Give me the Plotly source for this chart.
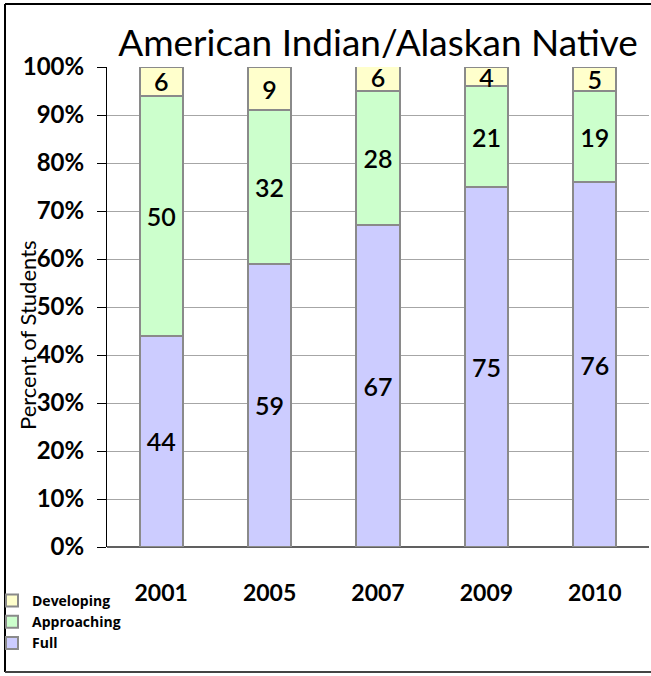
import plotly.graph_objects as go

years = ["2001", "2005", "2007", "2009", "2010"]
full = [44, 59, 67, 75, 76]
approaching = [50, 32, 28, 21, 19]
developing = [6, 9, 6, 4, 5]

FONT = "Lato, 'Open Sans', sans-serif"

fig = go.Figure()
series = [("Full", full, "#CCCCFF"), ("Approaching", approaching, "#CCFFCC"), ("Developing", developing, "#FFFFCC")]
for name, vals, col in series:
    fig.add_trace(go.Bar(
        x=years, y=vals, name=name, width=0.4,
        marker=dict(color=col, line=dict(color="#8a8a8a", width=2)),
        text=[str(v) for v in vals], textposition="inside", insidetextanchor="middle",
        constraintext="none", textangle=0,
        textfont=dict(family=FONT, size=25, color="black", weight=600),
    ))

L, R, T, B = 107, 2, 67, 129
W, H = 651, 676
pw = W - L - R
ph = H - T - B

def px(x):
    return (x - L) / pw

def py(y):
    return (H - B - y) / ph

fig.update_layout(
    width=W, height=H, barmode="stack",
    margin=dict(l=L, r=R, t=T, b=B, autoexpand=False),
    paper_bgcolor="white", plot_bgcolor="white",
    font=dict(family=FONT, color="black"),
    title=dict(text="American Indian/Alaskan Native", x=0.5, xref="paper", xanchor="center",
               y=1 - 43 / H, yanchor="middle", font=dict(size=37, color="black")),
    showlegend=True,
    legend=dict(traceorder="reversed", orientation="v", x=px(-8), y=py(585), xanchor="left", yanchor="top",
                font=dict(size=14, family="'Open Sans', sans-serif", weight="bold"), bgcolor="rgba(0,0,0,0)",
                itemwidth=30, tracegroupgap=0),
    uniformtext=dict(minsize=18, mode="show"),
)
fig.update_xaxes(showgrid=False, ticks="", ticklabelstandoff=30,
                 tickfont=dict(size=23, family=FONT, weight="bold"), showline=False)
fig.update_yaxes(range=[0, 100], dtick=10, ticksuffix="%", showgrid=True, gridcolor="#a6a6a6", gridwidth=1,
                 ticks="outside", ticklen=9, tickcolor="black", showline=True, linecolor="black", linewidth=1,
                 zeroline=True, zerolinecolor="#606060", zerolinewidth=2, ticklabelstandoff=8,
                 tickfont=dict(size=24, family=FONT, weight="bold"))

fig.add_annotation(text="Percent of Students", textangle=-90, x=px(27), y=py(335), xref="paper", yref="paper",
                   xanchor="center", yanchor="middle",
                   showarrow=False, font=dict(size=22, family=FONT, color="black"))

# outer border
fig.add_shape(type="line", xref="paper", yref="paper", x0=px(5), x1=px(5), y0=py(4), y1=py(672),
              line=dict(color="black", width=2))
fig.add_shape(type="line", xref="paper", yref="paper", x0=px(5), x1=px(651), y0=py(4), y1=py(4),
              line=dict(color="black", width=2))
fig.add_shape(type="line", xref="paper", yref="paper", x0=px(5), x1=px(651), y0=py(672), y1=py(672),
              line=dict(color="#444444", width=2))

fig.write_html("out.html", config={"displayModeBar": False},
               post_script="document.body.style.margin='0';document.body.style.overflow='hidden';")
